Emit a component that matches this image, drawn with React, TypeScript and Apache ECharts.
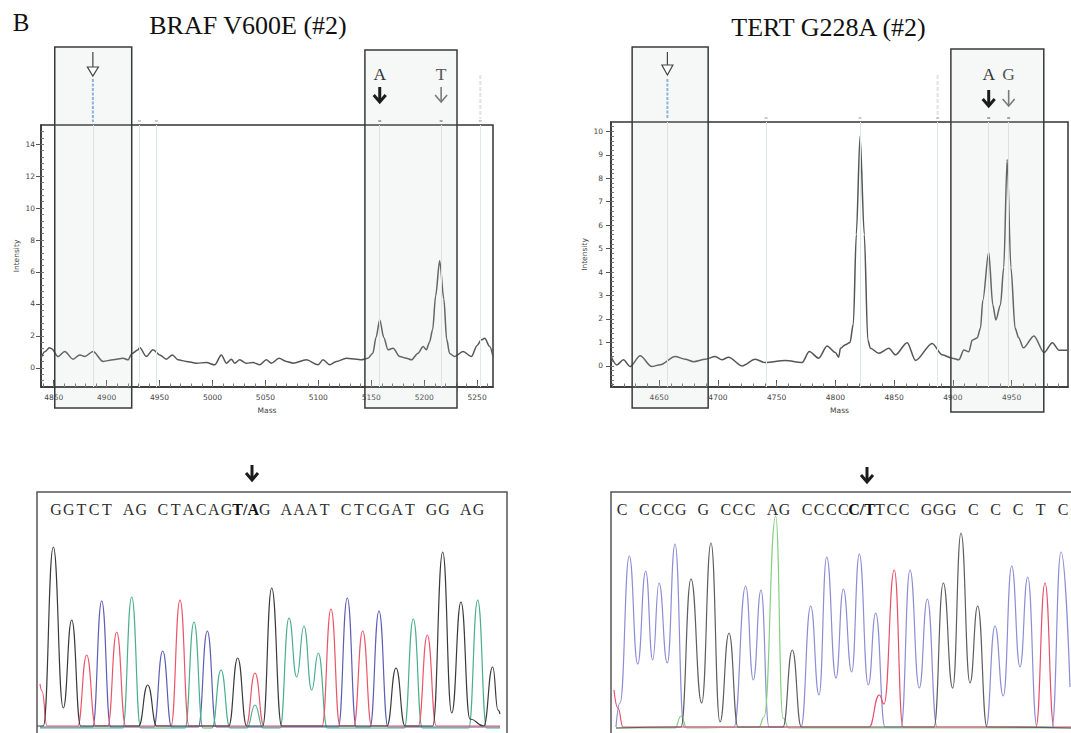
import React, { useEffect, useRef } from "react";
import * as echarts from "echarts";

// ---------------- DATA ----------------
// Mass spectra: [mass, intensity]
const BRAF_SPECTRUM: [number, number][] = [
  [4838, 0.6], [4841.5, 1.0], [4846, 1.25], [4848, 1.2], [4854.1, 0.71], [4860.4, 1.02], [4868.3, 0.54],
  [4874.6, 0.81], [4879.3, 0.71], [4887.2, 1.02], [4896.6, 0.4], [4906.1, 0.5], [4915.5, 0.6], [4920.2, 0.5],
  [4924, 0.9], [4929.7, 1.13], [4931.2, 1.27], [4937.5, 0.71], [4943.8, 1.13], [4950.1, 0.81], [4956.4, 0.54],
  [4962.1, 0.81], [4967.5, 0.5], [4975.3, 0.4], [4984.8, 0.29], [4994.2, 0.33], [5002.1, 0.19], [5008.4, 0.81],
  [5013.1, 0.29], [5017.8, 0.54], [5021, 0.29], [5025.7, 0.5], [5032, 0.29], [5038.3, 0.33], [5044.6, 0.19],
  [5050.9, 0.5], [5055.6, 0.29], [5062.9, 0.6], [5069.8, 0.4], [5076.1, 0.29], [5088.7, 0.5], [5099.7, 0.19],
  [5104.4, 0.5], [5110.7, 0.19], [5117, 0.4], [5126.5, 0.6], [5135.9, 0.54], [5140.6, 0.5], [5146.9, 0.6],
  [5151.5, 0.92], [5154.5, 1.9], [5158, 3.0], [5161.8, 1.9], [5165.8, 1.13], [5170.6, 1.23], [5176.9, 0.71],
  [5183.2, 0.6], [5188, 0.5], [5194.2, 0.92], [5199, 1.33], [5202, 1.13], [5205, 1.6], [5208, 2.4],
  [5210.8, 4.5], [5214.6, 6.7], [5218.6, 4.3], [5221.2, 1.8], [5224, 0.9], [5228.8, 0.71], [5236.7, 1.02],
  [5244.6, 0.71], [5250, 1.4], [5254, 1.75], [5257.2, 1.85], [5261.9, 1.33], [5265, 0.71],
];

const TERT_SPECTRUM: [number, number][] = [
  [4609, 0.4], [4613.9, 0.04], [4619.6, 0.26], [4625.3, -0.03], [4633.8, 0.43], [4643.7, -0.03], [4650.9, 0.05],
  [4663.6, 0.4], [4672.2, 0.28], [4679.3, 0.18], [4689.2, 0.28], [4697.7, 0.4], [4703.4, 0.26], [4709.1, 0.37],
  [4720.5, 0.0], [4731.8, 0.28], [4740.3, 0.14], [4757.4, 0.23], [4771.6, 0.14], [4777.8, 0.61], [4785.8, 0.33],
  [4792.9, 0.85], [4800, 0.57], [4802.8, 0.37], [4804.3, 0.75], [4808.5, 0.9], [4812.4, 1.0], [4815.3, 1.8],
  [4817.8, 5.6], [4821, 9.8], [4824.6, 5.6], [4827.6, 1.1], [4829.8, 0.75], [4836.9, 0.54], [4845.5, 0.75],
  [4851.1, 0.47], [4861.1, 0.99], [4868.2, 0.23], [4882.4, 0.96], [4890.9, 0.47], [4899.4, 0.33], [4905.1, 0.26],
  [4909.4, 0.68], [4913.6, 0.6], [4916.5, 1.1], [4920.7, 1.19], [4923.5, 1.6], [4925.5, 2.8], [4930.5, 4.85],
  [4934, 2.6], [4936.6, 1.96], [4940.5, 2.6], [4943.3, 4.2], [4946.2, 8.8], [4949.4, 4.2], [4953, 1.6],
  [4956, 1.2], [4960, 0.77], [4969, 1.28], [4977.6, 0.57], [4984.7, 0.99], [4990.3, 0.67], [4997.5, 0.67],
];

const BRAF_X_LABELS = [4850, 4900, 4950, 5000, 5050, 5100, 5150, 5200, 5250];
const BRAF_Y_LABELS = [0, 2, 4, 6, 8, 10, 12, 14];
const TERT_X_LABELS = [4650, 4700, 4750, 4800, 4850, 4900, 4950];
const TERT_Y_LABELS = [0, 1, 2, 3, 4, 5, 6, 7, 8, 9, 10];

// allele calls and markers (mass)
const BRAF_CALLS = [
  { mass: 5158, allele: "A", strong: true },
  { mass: 5216, allele: "T", strong: false },
];
const TERT_CALLS = [
  { mass: 4930.5, allele: "A", strong: true },
  { mass: 4947.5, allele: "G", strong: false },
];
const BRAF_UEP = 4887;
const TERT_UEP = 4657;
const BRAF_OTHER = [4931, 4947, 5253];
const TERT_OTHER = [4741, 4821, 4887];
const BRAF_BOXES: [number, number][] = [[4851, 4923.7], [5144, 5231]];
const TERT_BOXES: [number, number][] = [[4627, 4691.7], [4898.3, 4977.4]];

// Sanger traces: [trace position, signal]
const BRAF_TRACE_BLACK: [number, number][] = [
  [0, 3], [6.3, 3], [16.3, 182], [26.3, 21], [34.7, 109], [43.7, 3],
  [101.7, 3], [110.7, 44], [119.7, 3],
  [191.7, 3], [200.7, 71], [209.7, 3],
  [225.7, 3], [234.7, 141], [244.7, 3],
  [350, 3], [359, 61], [368, 3],
  [395.7, 3], [405.7, 177], [414.7, 16], [424, 127], [433, 10], [446.7, 3], [455.7, 62], [461, 19], [463, 15],
];
const BRAF_TRACE_RED: [number, number][] = [
  [3, 45], [5, 38], [10, 3], [40.7, 3], [49.7, 74], [58.7, 3], [70.7, 3], [79.7, 97], [88.7, 3],
  [134, 3], [143, 129], [152, 3], [209, 3], [218, 56], [227, 3], [285, 3], [294, 120], [303, 3],
  [316.7, 3], [325.7, 98], [334.7, 3], [381.3, 3], [390.3, 94], [399.3, 3], [463, 3],
];
const BRAF_TRACE_BLUE: [number, number][] = [
  [3, 2], [55.7, 2], [64.7, 128], [73.7, 2], [116.7, 2], [125.7, 78], [134.7, 2], [161.3, 2], [170.3, 98],
  [179.3, 2], [301.3, 2], [310.3, 131], [319.3, 2], [333, 2], [342, 118], [351, 2], [463, 2],
];
const BRAF_TRACE_GREEN: [number, number][] = [
  [3, 1], [85.7, 1], [94.7, 132], [103.7, 1], [148, 1], [157, 107], [166, 1], [175, 1], [184, 59], [193, 1],
  [210, 1], [218, 24], [226, 1], [243, 1], [252, 111], [259.7, 52], [267, 103], [274.7, 39], [281.3, 76],
  [290.3, 1], [367.3, 1], [376.3, 110], [385.3, 1], [431.7, 1], [440.7, 129], [449.7, 1], [463, 1],
];

const TERT_TRACE_BLUE: [number, number][] = [
  [5, 3], [9, 27], [18.3, 174], [26.7, 66], [34.7, 159], [41.7, 70], [48, 147], [56.3, 67], [64, 186], [73, 3],
  [123, 3], [134.7, 144], [142.3, 50], [150, 140], [158, 3],
  [190, 3], [199.7, 124], [208, 35], [215.7, 173], [225, 52], [232.3, 141], [240.7, 58], [248.3, 176],
  [257.3, 45], [264.7, 117], [274, 3],
  [290, 3], [299, 160], [308.3, 42], [316.3, 131], [326, 3],
  [375, 3], [384, 104], [392.3, 34], [400.7, 164], [409, 63], [416.7, 153], [426, 3],
  [441, 3], [450, 178], [459, 43],
];
const TERT_TRACE_BLACK: [number, number][] = [
  [5, 2], [70, 3], [80, 151], [90.7, 27], [100, 187], [109, 8], [118, 97], [127, 3],
  [172, 3], [181.3, 80], [190.3, 3],
  [323, 3], [332.3, 147], [341.7, 42], [350, 197], [359, 47], [366.7, 124], [376, 3], [460, 2],
];
const TERT_TRACE_GREEN: [number, number][] = [
  [5, 2], [64, 2], [70, 14], [76, 2], [148, 3], [153, 13], [164.7, 214], [172, 12], [178, 2], [460, 2],
];
const TERT_TRACE_RED: [number, number][] = [
  [3, 40], [7, 22], [12, 3], [258, 3], [268.3, 35], [273, 26], [283.3, 160], [292, 3],
  [425, 3], [434, 147], [443, 3], [460, 3],
];

// Sequences (bold = variant position)
const BRAF_SEQ = [
  { text: "GGTCT AG CTACAG", bold: false },
  { text: "T/A", bold: true },
  { text: "G AAAT CTCGAT GG AG", bold: false },
];
const TERT_SEQ = [
  { text: "C CCCG G CCC AG CCCC", bold: false },
  { text: "C/T", bold: true },
  { text: "TCC GGG C C C T C", bold: false },
];

const BRAF_TITLE = "BRAF V600E (#2)";
const TERT_TITLE = "TERT G228A (#2)";
const PANEL_LABEL = "B";

// ---------------- LAYOUT / STYLE ----------------
const W = 1071;
const H = 733;
const AX_FONT = { fontFamily: "DejaVu Sans", fontSize: 7.5, color: "#444" };
const SERIF = "Liberation Serif";
const plain = (v: number) => String(v);

function ticks(a: number, b: number, step: number): number[] {
  const out: number[] = [];
  const n = Math.round((b - a) / step);
  for (let i = 0; i <= n; i++) out.push(Math.round((a + i * step) * 1000) / 1000);
  return out;
}

function mainX(gridIndex: number, min: number, max: number, labels: number[]) {
  return {
    type: "value", gridIndex, min, max, position: "bottom",
    axisLine: { show: true, onZero: false, lineStyle: { color: "#333", width: 1.5 } },
    axisTick: { show: true, inside: true, length: 7, customValues: labels, lineStyle: { color: "#555", width: 1 } },
    axisLabel: { show: true, customValues: labels, margin: 6, formatter: plain, ...AX_FONT },
    splitLine: { show: false },
    name: "Mass", nameLocation: "middle", nameGap: 19, nameTextStyle: { ...AX_FONT },
  };
}
function minorX(gridIndex: number, min: number, max: number, vals: number[]) {
  return {
    type: "value", gridIndex, min, max, position: "bottom",
    axisLine: { show: false, onZero: false },
    axisTick: { show: true, inside: true, length: 3.5, customValues: vals, lineStyle: { color: "#777", width: 1 } },
    axisLabel: { show: false },
    splitLine: { show: false },
  };
}
function mainY(gridIndex: number, min: number, max: number, labels: number[], margin: number, gap: number) {
  return {
    type: "value", gridIndex, min, max, position: "left",
    axisLine: { show: true, onZero: false, lineStyle: { color: "#333", width: 1.5 } },
    axisTick: { show: true, inside: false, length: 5, customValues: labels, lineStyle: { color: "#555", width: 1 } },
    axisLabel: { show: true, customValues: labels, margin, formatter: plain, ...AX_FONT },
    splitLine: { show: false },
    name: "Intensity", nameLocation: "middle", nameGap: gap, nameTextStyle: { ...AX_FONT },
  };
}
function minorY(gridIndex: number, min: number, max: number, vals: number[]) {
  return {
    type: "value", gridIndex, min, max, position: "left",
    axisLine: { show: false, onZero: false },
    axisTick: { show: true, inside: true, length: 3, customValues: vals, lineStyle: { color: "#777", width: 1 } },
    axisLabel: { show: false },
    splitLine: { show: false },
  };
}
function hiddenAxis(gridIndex: number, min: number, max: number) {
  return { type: "value", gridIndex, min, max, show: false, splitLine: { show: false } };
}

function markerLines(vals: number[]) {
  return {
    silent: true,
    symbol: ["none", "none"],
    label: { show: false },
    lineStyle: { color: "#e1e6e6", width: 1, type: "solid" },
    data: vals.map((v) => ({ xAxis: v })),
  };
}

function trace(xi: number, data: [number, number][], color: string) {
  return {
    type: "line", xAxisIndex: xi, yAxisIndex: xi, data, smooth: 0.5, smoothMonotone: "x",
    symbol: "none", lineStyle: { color, width: 1.2 }, silent: true,
  };
}

function buildOption() {
  return {
    animation: false,
    backgroundColor: "#ffffff",
    grid: [
      { left: 41, top: 125, width: 452, height: 262, show: true, borderColor: "#333", borderWidth: 1.5, backgroundColor: "transparent" },
      { left: 611, top: 122, width: 457, height: 265, show: true, borderColor: "#333", borderWidth: 1.5, backgroundColor: "transparent" },
      { left: 37, top: 492, width: 470, height: 237, show: false },
      { left: 611, top: 492, width: 460, height: 238, show: false },
    ],
    xAxis: [
      mainX(0, 4838, 5265, BRAF_X_LABELS),
      minorX(0, 4838, 5265, ticks(4840, 5260, 10)),
      mainX(1, 4609, 4998, TERT_X_LABELS),
      minorX(1, 4609, 4998, ticks(4610, 4990, 10)),
      hiddenAxis(2, 0, 470),
      hiddenAxis(3, 0, 460),
    ],
    yAxis: [
      mainY(0, -1.2, 15.2, BRAF_Y_LABELS, 6, 21),
      minorY(0, -1.2, 15.2, ticks(-0.8, 14.8, 0.4)),
      mainY(1, -0.9, 10.4, TERT_Y_LABELS, 8, 23),
      minorY(1, -0.9, 10.4, ticks(-0.8, 10.2, 0.2)),
      hiddenAxis(2, 0, 237),
      hiddenAxis(3, 0, 238),
    ],
    series: [
      {
        type: "line", xAxisIndex: 0, yAxisIndex: 0, data: BRAF_SPECTRUM, smooth: 0.3, smoothMonotone: "x",
        symbol: "none", lineStyle: { color: "#555", width: 1.5 }, silent: true, z: 4,
        markLine: markerLines([BRAF_UEP, ...BRAF_CALLS.map((c) => c.mass), ...BRAF_OTHER]),
      },
      {
        type: "line", xAxisIndex: 2, yAxisIndex: 2, data: TERT_SPECTRUM, smooth: 0.3, smoothMonotone: "x",
        symbol: "none", lineStyle: { color: "#555", width: 1.5 }, silent: true, z: 4,
        markLine: markerLines([TERT_UEP, ...TERT_CALLS.map((c) => c.mass), ...TERT_OTHER]),
      },
      trace(4, BRAF_TRACE_BLUE, "#5d5db5"),
      trace(4, BRAF_TRACE_GREEN, "#4aae8c"),
      trace(4, BRAF_TRACE_RED, "#ec5468"),
      trace(4, BRAF_TRACE_BLACK, "#3a3a3a"),
      trace(5, TERT_TRACE_BLUE, "#8c8dd4"),
      trace(5, TERT_TRACE_GREEN, "#86cf86"),
      trace(5, TERT_TRACE_RED, "#e8506a"),
      trace(5, TERT_TRACE_BLACK, "#5e5e5e"),
    ],
  };
}

// ---------------- GRAPHICS ----------------
function downArrow(x: number, y0: number, y1: number, strong: boolean, half = 6) {
  const stroke = strong ? "#1c1c1c" : "#7a7a7a";
  const lw = strong ? 3 : 1.6;
  return [
    { type: "line", shape: { x1: x, y1: y0, x2: x, y2: y1 - 1 }, style: { stroke, lineWidth: lw }, z: 20, silent: true },
    {
      type: "polyline",
      shape: { points: [[x - half, y1 - half - 1], [x, y1], [x + half, y1 - half - 1]] },
      style: { stroke, lineWidth: lw, fill: "none" }, z: 20, silent: true,
    },
  ];
}

function hollowArrow(x: number, y0: number, yMid: number, y1: number) {
  return [
    { type: "line", shape: { x1: x, y1: y0, x2: x, y2: yMid }, style: { stroke: "#444", lineWidth: 1.2 }, z: 20, silent: true },
    {
      type: "polygon",
      shape: { points: [[x - 5.5, yMid], [x + 5.5, yMid], [x, y1]] },
      style: { stroke: "#444", lineWidth: 1.2, fill: "#ffffff" }, z: 20, silent: true,
    },
  ];
}

function txt(x: number, y: number, text: string, fontSize: number, fill: string, extra: any = {}) {
  return {
    type: "text", x, y, z: 20, silent: true,
    style: { text, fontFamily: SERIF, fontSize, fill, align: "center", verticalAlign: "middle", ...extra },
  };
}

function sequence(tokens: { text: string; bold: boolean }[], spaceAdv: number, xFirst: number, xLast: number, y: number) {
  const units: { text: string; bold: boolean; pos: number; first: number; last: number }[] = [];
  let cursor = 0;
  for (const tok of tokens) {
    if (tok.bold) {
      const letters = tok.text.replace("/", "").length;
      units.push({ text: tok.text, bold: true, pos: cursor + (letters - 1) / 2, first: cursor, last: cursor + letters - 1 });
      cursor += letters;
    } else {
      for (const ch of tok.text) {
        if (ch === " ") cursor += spaceAdv;
        else {
          units.push({ text: ch, bold: false, pos: cursor, first: cursor, last: cursor });
          cursor += 1;
        }
      }
    }
  }
  const p0 = units[0].first;
  const p1 = units[units.length - 1].last;
  const k = (xLast - xFirst) / (p1 - p0);
  return units.map((u) =>
    txt(xFirst + (u.pos - p0) * k, y, u.text, 16, u.bold ? "#111" : "#2e2e2e", u.bold ? { fontWeight: "bold" } : {})
  );
}

function spectrumDecor(
  px: (v: number) => number,
  boxes: [number, number][],
  boxY: [number, number][],
  calls: { mass: number; allele: string; strong: boolean }[],
  arrowY: [number, number],
  uep: number,
  uepArrow: [number, number, number],
  others: number[],
  faintLabel: number,
  frameTop: number
) {
  const els: any[] = [];
  boxes.forEach((b, i) => {
    const x0 = px(b[0]);
    const x1 = px(b[1]);
    els.push({
      type: "rect", z: 15, silent: true,
      shape: { x: x0, y: boxY[i][0], width: x1 - x0, height: boxY[i][1] - boxY[i][0] },
      style: { fill: "rgba(190,205,205,0.14)", stroke: "#3a3a3a", lineWidth: 1.5 },
    });
  });
  calls.forEach((c) => {
    const x = px(c.mass);
    els.push(txt(x, 74, c.allele, 17.5, c.strong ? "#333" : "#555"));
    els.push(...downArrow(x, arrowY[0], arrowY[1], c.strong));
    els.push({ type: "rect", z: 16, silent: true, shape: { x: x - 1.5, y: frameTop - 5, width: 3, height: 2 }, style: { fill: "#9aa" } });
  });
  const ux = px(uep);
  els.push(...hollowArrow(ux, uepArrow[0], uepArrow[1], uepArrow[2]));
  els.push({
    type: "line", z: 16, silent: true,
    shape: { x1: ux, y1: 79, x2: ux, y2: frameTop - 3 },
    style: { stroke: "#8db3dc", lineWidth: 2, lineDash: [3, 1.5] },
  });
  others.forEach((m) => {
    const x = px(m);
    els.push({ type: "rect", z: 16, silent: true, shape: { x: x - 1.5, y: frameTop - 5, width: 3, height: 2 }, style: { fill: "#c5cccc" } });
  });
  const fx = px(faintLabel);
  els.push({
    type: "line", z: 16, silent: true,
    shape: { x1: fx, y1: 75, x2: fx, y2: frameTop - 6 },
    style: { stroke: "#e2e2e2", lineWidth: 2, lineDash: [4, 2] },
  });
  return els;
}

function buildGraphics(chart: any) {
  const pxB = (v: number) => chart.convertToPixel({ xAxisIndex: 0 }, v) as number;
  const pxT = (v: number) => chart.convertToPixel({ xAxisIndex: 2 }, v) as number;
  const els: any[] = [];
  els.push(txt(21, 22.5, PANEL_LABEL, 25, "#111"));
  els.push(txt(248, 25.5, BRAF_TITLE, 26, "#111"));
  els.push(txt(828.5, 27.5, TERT_TITLE, 26, "#111"));

  els.push(
    ...spectrumDecor(pxB, BRAF_BOXES, [[47, 408], [50, 408]], BRAF_CALLS, [87, 102], BRAF_UEP, [52, 67, 76], BRAF_OTHER, 5253, 125)
  );
  els.push(
    ...spectrumDecor(pxT, TERT_BOXES, [[47, 408], [49, 412]], TERT_CALLS, [90, 106], TERT_UEP, [52, 65, 75], TERT_OTHER, 4887, 122)
  );

  // Sanger panels
  els.push({ type: "rect", z: 15, silent: true, shape: { x: 37, y: 492, width: 470, height: 260 }, style: { fill: "none", stroke: "#555", lineWidth: 1.5 } });
  els.push({ type: "rect", z: 15, silent: true, shape: { x: 611, y: 492, width: 470, height: 260 }, style: { fill: "none", stroke: "#555", lineWidth: 1.5 } });
  els.push(...downArrow(252, 465, 480, true, 6));
  els.push(...downArrow(867, 467, 482, true, 6));
  els.push(...sequence(BRAF_SEQ, 0.7, 56, 478.5, 509));
  els.push(...sequence(TERT_SEQ, 0.85, 622, 1063, 509));
  return els;
}

export default function App() {
  const ref = useRef<HTMLDivElement>(null);
  useEffect(() => {
    document.body.style.margin = "0";
    const chart = echarts.init(ref.current as HTMLDivElement, null, { renderer: "svg" });
    chart.setOption(buildOption() as any);
    chart.setOption({ graphic: buildGraphics(chart) } as any);
    return () => chart.dispose();
  }, []);
  return <div ref={ref} style={{ width: W, height: H }} />;
}
